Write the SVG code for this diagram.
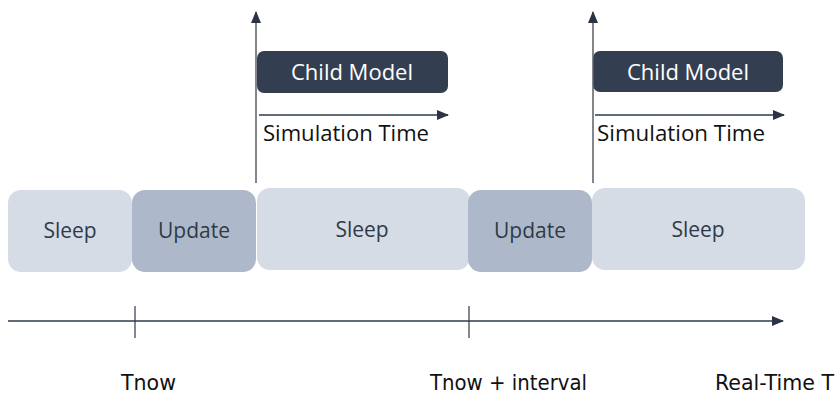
<svg xmlns="http://www.w3.org/2000/svg" width="836" height="396" viewBox="0 0 836 396">
  <defs>
    <style>
      .sleep { fill: #d6dce5; }
      .update { fill: #adb9ca; }
      .child { fill: #333f50; }
      .lbl { font-family: "Open Sans", "Liberation Sans", sans-serif; font-size: 21px; fill: #2f3a48; text-anchor: middle; }
      .childlbl { font-family: "Open Sans", "Liberation Sans", sans-serif; font-size: 22px; fill: #ffffff; text-anchor: middle; }
      .simlbl { font-family: "Open Sans", "Liberation Sans", sans-serif; font-size: 21px; fill: #111111; }
      .axislbl { font-family: "Liberation Sans Narrow", "DejaVu Sans Condensed", "Liberation Sans", sans-serif; font-size: 21px; fill: #111111; }
      .vaxis { stroke: #5a5f66; stroke-width: 1.5; fill: none; }
      .haxis { stroke: #2e3a4a; stroke-width: 1.4; fill: none; }
      .tick { stroke: #2e3a4a; stroke-width: 1.2; fill: none; }
    </style>
    <marker id="head" viewBox="0 0 12 10" refX="11" refY="5" markerWidth="12" markerHeight="10" markerUnits="userSpaceOnUse" orient="auto">
      <path d="M0,0 L12,5 L0,10 Z" fill="#2a3444"/>
    </marker>
  </defs>

  <!-- phase blocks -->
  <g id="sleep1">
    <rect class="sleep" x="8" y="190" width="124" height="82" rx="13"/>
    <text class="lbl" x="70" y="238">Sleep</text>
  </g>
  <g id="update1">
    <rect class="update" x="132" y="190" width="124" height="82" rx="13"/>
    <text class="lbl" x="194" y="238">Update</text>
  </g>
  <g id="sleep2">
    <rect class="sleep" x="257" y="188" width="213" height="82" rx="13"/>
    <text class="lbl" x="362" y="237">Sleep</text>
  </g>
  <g id="update2">
    <rect class="update" x="468" y="190" width="124" height="82" rx="13"/>
    <text class="lbl" x="530" y="238">Update</text>
  </g>
  <g id="sleep3">
    <rect class="sleep" x="592" y="188" width="213" height="82" rx="13"/>
    <text class="lbl" x="698" y="237">Sleep</text>
  </g>

  <!-- child models -->
  <g id="child1">
    <rect class="child" x="257" y="51" width="191" height="42" rx="7"/>
    <text class="childlbl" x="352" y="80">Child Model</text>
  </g>
  <g id="child2">
    <rect class="child" x="593" y="51" width="190" height="41" rx="7"/>
    <text class="childlbl" x="688" y="80">Child Model</text>
  </g>

  <!-- axes -->
  <g id="connectors">
    <line class="vaxis" x1="256" y1="183" x2="256" y2="12" marker-end="url(#head)"/>
    <line class="vaxis" x1="593" y1="183" x2="593" y2="12" marker-end="url(#head)"/>
    <line class="haxis" x1="259" y1="115" x2="448" y2="115" marker-end="url(#head)"/>
    <line class="haxis" x1="595" y1="115" x2="784" y2="115" marker-end="url(#head)"/>
    <line class="haxis" x1="8" y1="321" x2="783" y2="321" marker-end="url(#head)"/>
    <line class="tick" x1="135" y1="306" x2="135" y2="338"/>
    <line class="tick" x1="469" y1="306" x2="469" y2="338"/>
  </g>

  <!-- axis labels -->
  <g id="labels">
    <text class="simlbl" x="263" y="141" textLength="166" lengthAdjust="spacingAndGlyphs">Simulation Time</text>
    <text class="simlbl" x="597" y="141" textLength="168" lengthAdjust="spacingAndGlyphs">Simulation Time</text>
    <text class="axislbl" x="121" y="390" textLength="55" lengthAdjust="spacingAndGlyphs">Tnow</text>
    <text class="axislbl" x="430" y="390" textLength="157" lengthAdjust="spacingAndGlyphs">Tnow + interval</text>
    <text class="axislbl" x="715" y="390" textLength="119" lengthAdjust="spacingAndGlyphs">Real-Time T</text>
  </g>
</svg>
